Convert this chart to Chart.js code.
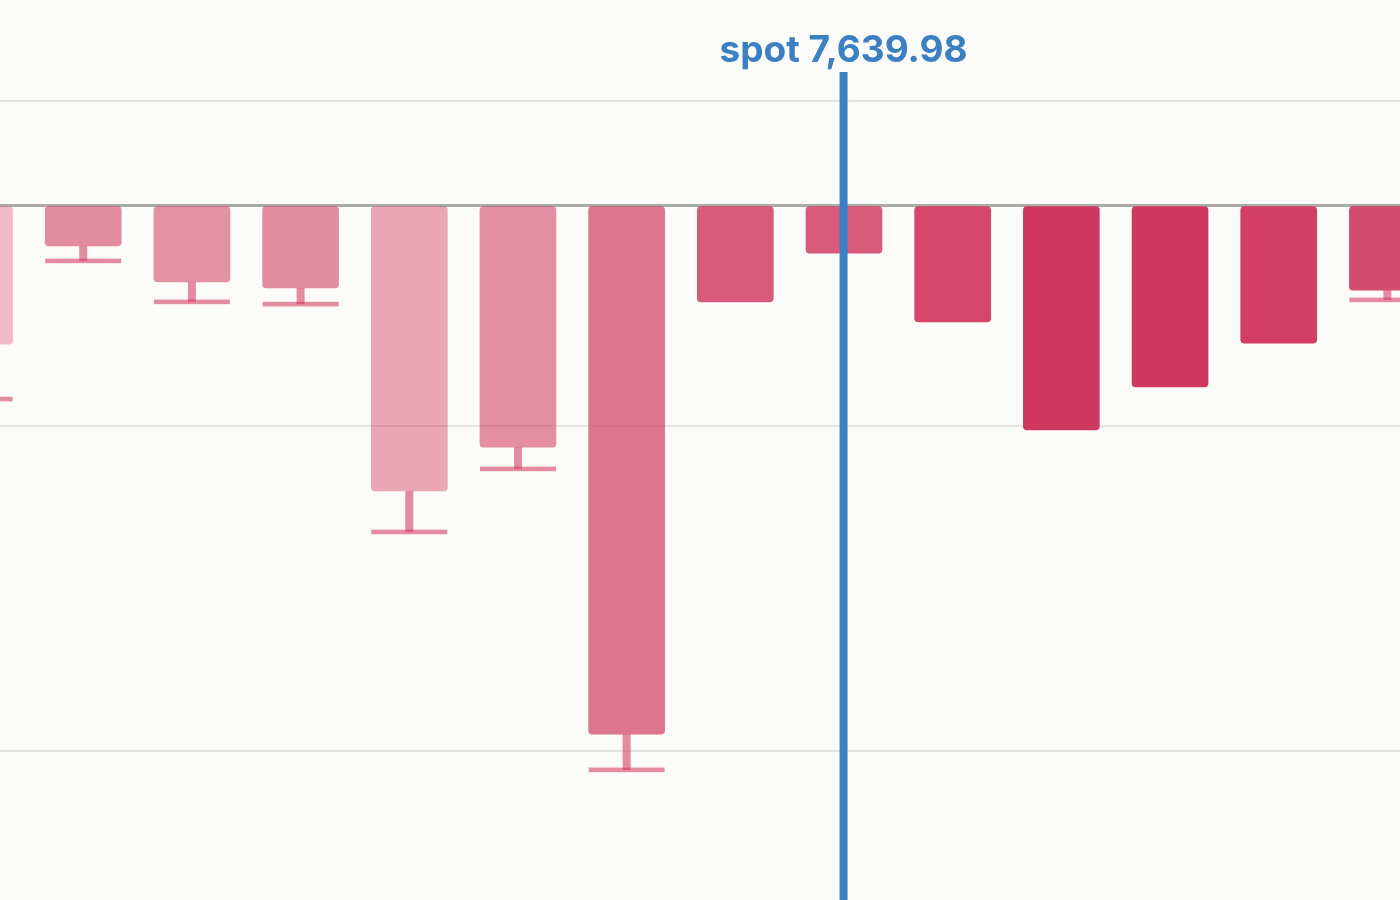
<!DOCTYPE html>
<html>
<head>
<meta charset="utf-8">
<script src="https://cdn.jsdelivr.net/npm/chart.js@4/dist/chart.umd.min.js"></script>
<style>
  html, body { margin: 0; padding: 0; background: #fbfbf9; }
  #wrap { width: 1400px; height: 900px; position: relative; }
</style>
</head>
<body>
<div id="wrap"><canvas id="c"></canvas></div>
<script>
// ---- data ----
const strikes   = [7600, 7605, 7610, 7615, 7620, 7625, 7630, 7635, 7640, 7645, 7650, 7655, 7660, 7665];
const netValues = [-42.8, -12.6, -23.7, -25.5, -88.0, -74.5, -162.8, -29.8, -14.8, -36.0, -69.2, -56.0, -42.5, -26.2];
const lowValues = [-59.7, -17.2, -29.8, -30.5, -100.6, -81.2, -173.8, null, null, null, null, null, null, -29.2];
const gridTicks = [32, 0, -68, -168];
const spotValue = 7639.98;
const spotLabel = 'spot 7,639.98';

// ---- styles ----
const barAlphas = [0.32, 0.55, 0.53, 0.55, 0.42, 0.54, 0.67, 0.80, 0.80, 0.90, 0.97, 0.97, 0.94, 0.88];
const base = [207, 50, 90];
const rgba = a => `rgba(${base[0]},${base[1]},${base[2]},${a})`;

const whiskerPlugin = {
  id: 'whiskers',
  afterDatasetsDraw(chart) {
    const ctx = chart.ctx, xs = chart.scales.x, ys = chart.scales.y;
    ctx.save();
    ctx.fillStyle = rgba(0.55);
    strikes.forEach((s, i) => {
      const lo = lowValues[i];
      if (lo === null) return;
      const x = xs.getPixelForValue(s);
      const yTop = ys.getPixelForValue(netValues[i]);
      const yCap = ys.getPixelForValue(lo);
      ctx.fillRect(x - 4, yTop, 8, yCap - yTop);
      ctx.fillRect(x - 38, yCap - 2.3, 76, 4.6);
    });
    ctx.restore();
  }
};

const spotPlugin = {
  id: 'spot',
  afterDraw(chart) {
    const ctx = chart.ctx, xs = chart.scales.x;
    const x = xs.getPixelForValue(spotValue);
    ctx.save();
    ctx.strokeStyle = '#3b80c3';
    ctx.lineWidth = 8;
    ctx.beginPath();
    ctx.moveTo(x, 72);
    ctx.lineTo(x, chart.height);
    ctx.stroke();
    ctx.fillStyle = '#3b80c3';
    ctx.font = '700 37px Inter, "Noto Sans", sans-serif';
    ctx.textAlign = 'center';
    ctx.textBaseline = 'alphabetic';
    ctx.fillText(spotLabel, x, 62);
    ctx.restore();
  }
};

new Chart(document.getElementById('c'), {
  type: 'bar',
  data: {
    datasets: [{
      data: strikes.map((s, i) => ({ x: s, y: netValues[i] })),
      backgroundColor: barAlphas.map(rgba),
      borderWidth: 0,
      borderRadius: 4,
      borderSkipped: false,
      barThickness: 76
    }]
  },
  options: {
    responsive: true,
    maintainAspectRatio: false,
    animation: false,
    layout: { padding: 0 },
    plugins: { legend: { display: false }, tooltip: { enabled: false } },
    scales: {
      x: {
        type: 'linear',
        offset: false,
        min: 7601.17,
        max: 7665.58,
        display: false
      },
      y: {
        min: -213.85,
        max: 63.08,
        afterBuildTicks: scale => { scale.ticks = gridTicks.map(v => ({ value: v })); },
        ticks: { display: false },
        border: { display: false },
        grid: {
          drawTicks: false,
          color: c => c.tick && c.tick.value === 0 ? '#aaaaa8' : '#e3e3e1',
          lineWidth: c => c.tick && c.tick.value === 0 ? 3 : 2
        }
      }
    }
  },
  plugins: [whiskerPlugin, spotPlugin]
});
</script>
</body>
</html>
